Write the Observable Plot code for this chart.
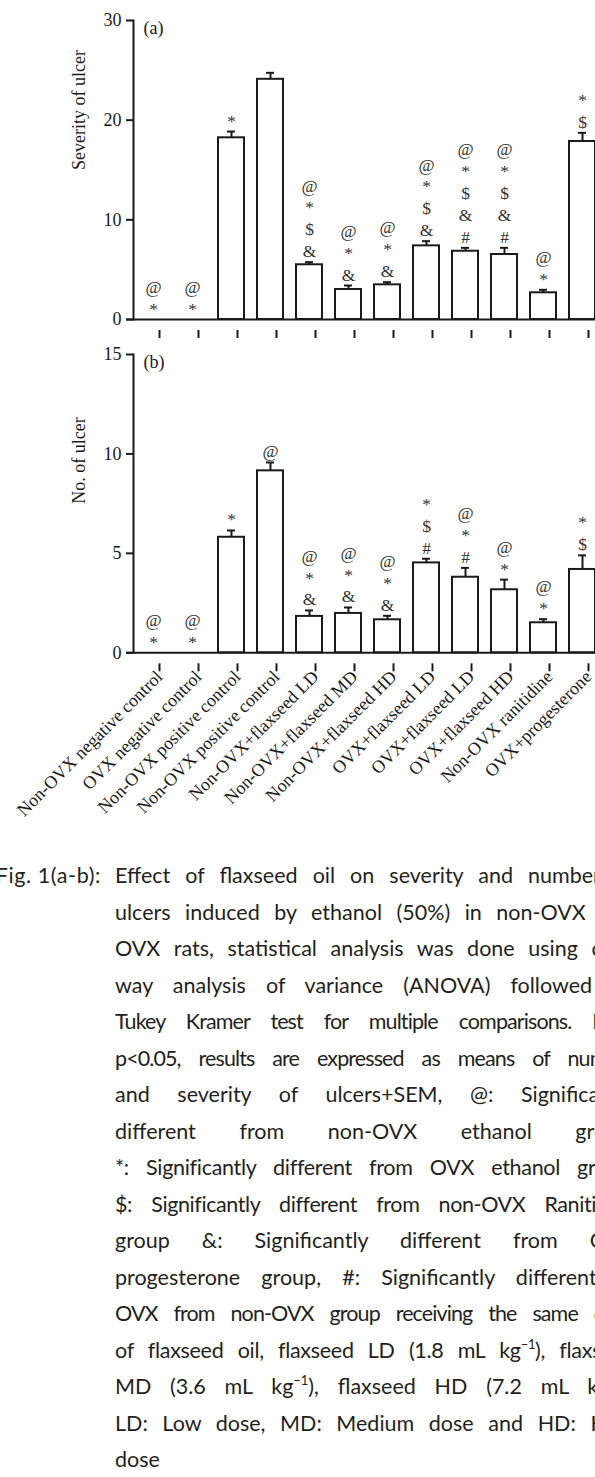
<!DOCTYPE html>
<html><head><meta charset="utf-8">
<script src="https://cdn.jsdelivr.net/npm/d3@7"></script>
<script src="https://cdn.jsdelivr.net/npm/@observablehq/plot@0.6"></script>
<style>
html,body{margin:0;padding:0;background:#fff;}
body{width:595px;height:1477px;overflow:hidden;position:relative;}
#chart svg{display:block;overflow:visible;max-width:none !important;}
#caption{position:absolute;left:0;top:857px;width:700px;font-family:Lato,"Open Sans",sans-serif;font-size:21.5px;color:#231f20;}
#caption .row{position:relative;height:36.5px;line-height:36.5px;white-space:nowrap;}
#caption .fig{position:absolute;right:calc(700px - 101px);top:0;letter-spacing:0.6px;}
#caption .txt{position:absolute;left:115px;width:520px;text-align:justify;text-align-last:justify;}
#caption .last{text-align:left;text-align-last:left;}
#caption sup{font-size:0.6em;line-height:0;vertical-align:0.7em;}
</style></head><body>
<div id="chart"></div>
<div id="caption"></div>
<script>
// ---- data ----
const categories = [
  "Non-OVX negative control", "OVX negative control", "Non-OVX positive control",
  "Non-OVX positive control", "Non-OVX+flaxseed LD", "Non-OVX+flaxseed MD",
  "Non-OVX+flaxseed HD", "OVX+flaxseed LD", "OVX+flaxseed LD", "OVX+flaxseed HD",
  "Non-OVX ranitidine", "OVX+progesterone"
];
const severity    = [0, 0, 18.23, 24.1, 5.49, 3.01, 3.48, 7.39, 6.85, 6.52, 2.68, 17.86];
const severitySem = [0, 0, 0.63, 0.65, 0.26, 0.40, 0.26, 0.47, 0.34, 0.67, 0.30, 0.87];
const severitySig = [
  ["@","*"], ["@","*"], ["*"], [], ["@","*","$","&"], ["@","*","&"], ["@","*","&"],
  ["@","*","$","&"], ["@","*","$","&","#"], ["@","*","$","&","#"], ["@","*"], ["*","$"]
];
const ulcerNo    = [0, 0, 5.81, 9.15, 1.83, 1.98, 1.66, 4.52, 3.80, 3.17, 1.51, 4.19];
const ulcerNoSem = [0, 0, 0.34, 0.42, 0.30, 0.30, 0.20, 0.21, 0.47, 0.51, 0.18, 0.71];
const ulcerNoSig = [
  ["@","*"], ["@","*"], ["*"], ["@"], ["@","*","&"], ["@","*","&"], ["@","*","&"],
  ["*","$","#"], ["@","*","#"], ["@","*"], ["@","*"], ["*","$"]
];
const severityTicks = [0, 10, 20, 30];
const ulcerNoTicks = [0, 5, 10, 15];
const captionLabel = "Fig. 1(a-b):";
const captionLines = [
  "Effect of flaxseed oil on severity and number of",
  "ulcers induced by ethanol (50%) in non-OVX and",
  "OVX rats, statistical analysis was done using one-",
  "way analysis of variance (ANOVA) followed by",
  "Tukey Kramer test for multiple comparisons. N=6,",
  "p<0.05, results are expressed as means of number",
  "and severity of ulcers+SEM, @: Significantly",
  "different from non-OVX ethanol group,",
  "*: Significantly different from OVX ethanol group,",
  "$: Significantly different from non-OVX Ranitidine",
  "group &: Significantly different from OVX",
  "progesterone group, #: Significantly different in",
  "OVX from non-OVX group receiving the same dose",
  "of flaxseed oil, flaxseed LD (1.8 mL kg-1), flaxseed",
  "MD (3.6 mL kg-1), flaxseed HD (7.2 mL kg-1),",
  "LD: Low dose, MD: Medium dose and HD: High",
  "dose"
];
const condensed = {4: -0.9, 5: -0.9, 8: -0.3, 9: -0.4, 12: -0.9, 13: -0.3};

// ---- chart ----
const ink = "#1a1a1a";
function panel({values, sems, sig, ticks, ymax, ylabel, tag, height, marginTop, marginBottom, labels}) {
  const data = categories.map((c, i) => ({i, v: values[i], e: values[i] + sems[i], s: sems[i], m: sig[i].join("\n")}));
  const err = data.filter(d => d.s > 0);
  return Plot.plot({
    width: 615, height, marginTop, marginBottom, marginLeft: 133, marginRight: 13,
    style: {fontFamily: "'Liberation Serif','Times New Roman',serif", color: ink, background: "white", overflow: "visible", maxWidth: "none"},
    x: {type: "band", domain: d3.range(categories.length), paddingInner: 0.346, paddingOuter: 0.14, axis: null},
    y: {domain: [0, ymax], axis: null},
    marks: [
      Plot.barY(data, {x: "i", y: "v", fill: "white", stroke: ink, strokeWidth: 2}),
      Plot.ruleX(err, {x: "i", y1: "v", y2: "e", stroke: ink, strokeWidth: 2}),
      Plot.tickY(err, {x: "i", y: "e", stroke: ink, strokeWidth: 2, insetLeft: 9, insetRight: 9}),
      Plot.text(data, {x: "i", y: "e", text: "m", lineAnchor: "bottom", lineHeight: 1.25, dy: -5, fontSize: 17.5, fill: "#333"}),
      Plot.axisY({ticks, tickSize: 7, tickPadding: 5, fontSize: 18, label: null, strokeWidth: 2}),
      Plot.frame({anchor: "left", strokeWidth: 2, stroke: ink}),
      Plot.ruleY([0], {stroke: ink, strokeWidth: 2, insetLeft: -7}),
      Plot.axisX({tickSize: 8, strokeWidth: 2, label: null, fontSize: 18,
        tickFormat: labels ? (i => categories[i]) : (() => ""), tickRotate: -45, tickPadding: 2, dx: 6, dy: 11}),
      Plot.text([tag], {text: d => d, frameAnchor: "top-left", dx: 10, dy: 1, fontSize: 18, textAnchor: "start", lineAnchor: "top"}),
      Plot.text([ylabel], {text: d => d, frameAnchor: "left", rotate: -90, dx: -54, fontSize: 18})
    ]
  });
}

const chart = document.getElementById("chart");
chart.append(panel({values: severity, sems: severitySem, sig: severitySig, ticks: severityTicks, ymax: 30,
  ylabel: "Severity of ulcer", tag: "(a)", height: 333, marginTop: 20, marginBottom: 14, labels: false}));
chart.append(panel({values: ulcerNo, sems: ulcerNoSem, sig: ulcerNoSig, ticks: ulcerNoTicks, ymax: 15,
  ylabel: "No. of ulcer", tag: "(b)", height: 520, marginTop: 21, marginBottom: 200.7, labels: true}));

// ---- caption ----
const cap = document.getElementById("caption");
const esc = s => s.replace(/&/g, "&amp;").replace(/</g, "&lt;").replace(/kg-1/g, "kg<sup>\u22121</sup>");
captionLines.forEach((line, k) => {
  const row = document.createElement("div");
  row.className = "row";
  let html = "";
  if (k === 0) html += `<span class="fig">${esc(captionLabel)}</span>`;
  const ls = condensed[k] != null ? `letter-spacing:${condensed[k]}px;` : "";
  html += `<span class="txt${k === captionLines.length - 1 ? " last" : ""}" style="${ls}">${esc(line)}</span>`;
  row.innerHTML = html;
  cap.append(row);
});
</script>
</body></html>
